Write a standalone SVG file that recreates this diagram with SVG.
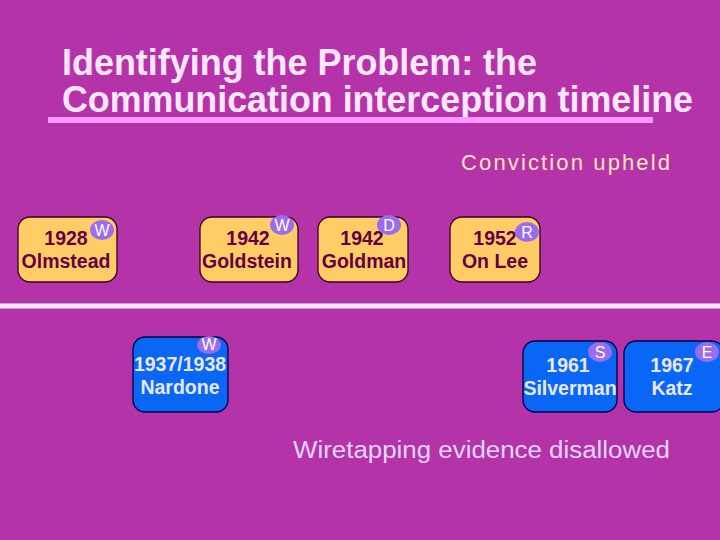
<svg xmlns="http://www.w3.org/2000/svg" width="720" height="540" viewBox="0 0 720 540">
<style>
.t{font-family:"Liberation Sans",Arial,sans-serif}
.title{font-size:36px;fill:#FFE6FF;font-weight:bold}
.orange rect{fill:#FFCC66;stroke:#330022;stroke-width:1.3}
.orange text{font-family:"Liberation Sans",Arial,sans-serif;font-weight:bold;font-size:19.5px;fill:#660044;text-anchor:middle}
.blue rect{fill:#0A66F5;stroke:#000044;stroke-width:1.3}
.blue text{font-family:"Liberation Sans",Arial,sans-serif;font-weight:bold;font-size:19.5px;fill:#E8E8FF;text-anchor:middle}
.badge ellipse{fill:#9A6CF0}
.badge text{font-family:"Liberation Sans",Arial,sans-serif;font-size:16px;fill:#FFFFFF;text-anchor:middle;font-weight:normal}
</style>
<rect x="0" y="0" width="720" height="540" fill="#B533A9"/>
<text class="t title" x="62" y="75" textLength="475" lengthAdjust="spacingAndGlyphs">Identifying the Problem: the</text>
<text class="t title" x="62" y="112" textLength="631" lengthAdjust="spacingAndGlyphs">Communication interception timeline</text>
<rect x="48" y="117" width="605" height="6" fill="#FF99FF"/>
<text class="t" x="461" y="170" font-size="22" fill="#FFE6B3" textLength="209" lengthAdjust="spacing">Conviction upheld</text>
<rect x="-2" y="303" width="724" height="6" fill="#FFE4FF" stroke="#993399" stroke-width="0.8"/>
<text class="t" x="293" y="458" font-size="23" fill="#E6D6FF" textLength="377" lengthAdjust="spacingAndGlyphs">Wiretapping evidence disallowed</text>

<g id="olmstead" class="orange">
<rect x="18" y="217" width="99" height="65" rx="12"/>
<text x="66" y="245">1928</text>
<text x="66" y="268">Olmstead</text>
<g class="badge"><ellipse cx="102" cy="230" rx="12" ry="10"/><text x="102" y="236">W</text></g>
</g>
<g id="goldstein" class="orange">
<rect x="200" y="217" width="98" height="65" rx="12"/>
<text x="248" y="245">1942</text>
<text x="247" y="268">Goldstein</text>
<g class="badge"><ellipse cx="282" cy="225" rx="12" ry="10"/><text x="282" y="231">W</text></g>
</g>
<g id="goldman" class="orange">
<rect x="318" y="217" width="90" height="65" rx="12"/>
<text x="362" y="245">1942</text>
<text x="364" y="268">Goldman</text>
<g class="badge"><ellipse cx="389" cy="225" rx="12" ry="10"/><text x="389" y="231">D</text></g>
</g>
<g id="onlee" class="orange">
<rect x="450" y="217" width="90" height="65" rx="12"/>
<text x="495" y="245">1952</text>
<text x="495" y="268">On Lee</text>
<g class="badge"><ellipse cx="527" cy="232" rx="12" ry="10"/><text x="527" y="238">R</text></g>
</g>
<g id="nardone" class="blue">
<rect x="133" y="337" width="95" height="75" rx="12"/>
<text x="180" y="371">1937/1938</text>
<text x="180" y="394">Nardone</text>
<g class="badge"><ellipse cx="209" cy="345" rx="12" ry="9"/><text x="209" y="350" font-size="15">W</text></g>
</g>
<g id="silverman" class="blue">
<rect x="523" y="341" width="94" height="71" rx="12"/>
<text x="568" y="372">1961</text>
<text x="570" y="395">Silverman</text>
<g class="badge"><ellipse cx="600" cy="352" rx="12" ry="10"/><text x="600" y="358">S</text></g>
</g>
<g id="katz" class="blue">
<rect x="624" y="341" width="100" height="71" rx="12"/>
<text x="672" y="372">1967</text>
<text x="672" y="395">Katz</text>
<g class="badge"><ellipse cx="707" cy="352" rx="12" ry="10"/><text x="707" y="358">E</text></g>
</g>
<g id="connectors"></g>
</svg>
